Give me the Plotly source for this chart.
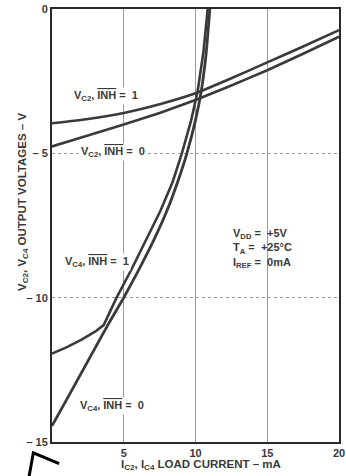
import plotly.graph_objects as go

# Load current (mA) and output voltages (V)
x_vc2 = [0, 2.5, 5, 7.5, 10, 12.5, 15, 17.5, 20]
vc2_inh1 = [-3.96, -3.81, -3.6, -3.3, -2.92, -2.4, -1.85, -1.3, -0.73]
vc2_inh0 = [-4.76, -4.38, -4.0, -3.6, -3.15, -2.65, -2.12, -1.55, -0.96]

x_vc4_inh1 = [0, 1, 2, 3, 3.6, 4.5, 5.5, 6.55, 7.55, 8.4, 9.05, 9.7, 10.15, 10.55, 10.85]
vc4_inh1 = [-11.94, -11.72, -11.47, -11.18, -10.95, -10.0, -9.06, -8.0, -7.0, -6.0, -5.0, -3.85, -2.85, -1.5, 0]

x_vc4_inh0 = [0, 1, 2, 3, 4, 5, 6, 7.1, 8.0, 8.75, 9.4, 10.0, 10.4, 10.75, 11.0]
vc4_inh0 = [-14.44, -13.55, -12.65, -11.75, -10.85, -10.0, -9.08, -8.0, -7.0, -6.0, -5.0, -3.85, -2.85, -1.5, 0]

x_ticks = [5, 10, 15, 20]
y_ticks = [0, -5, -10, -15]
y_tick_text = ["0", "\u2013 5", "\u2013 10", "\u2013 15"]

INK = "#3a3a3a"
FONT = "Liberation Sans"
NB = "\u00a0"
OV = '<span style="text-decoration:overline">INH</span>'
EQ = NB + "=" + NB + NB


def b(t):
    return "<b>" + t + "</b>"


fig = go.Figure()
for xs, ys, w, shp in [(x_vc2, vc2_inh1, 2.6, "spline"), (x_vc2, vc2_inh0, 2.6, "spline"),
                       (x_vc4_inh1, vc4_inh1, 2.6, "linear"), (x_vc4_inh0, vc4_inh0, 2.8, "spline")]:
    fig.add_trace(go.Scatter(x=xs, y=ys, mode="lines",
                             line=dict(color=INK, width=w, shape=shp,
                                       smoothing=0.4 if shp == "spline" else None),
                             showlegend=False, hoverinfo="skip"))

labels = [
    (3.75, -3.01, "V<sub>C2</sub>, " + OV + EQ + "1"),
    (4.25, -4.95, "V<sub>C2</sub>, " + OV + EQ + "0"),
    (3.15, -8.76, "V<sub>C4</sub>, " + OV + EQ + "1"),
    (4.15, -13.75, "V<sub>C4</sub>, " + OV + EQ + "0"),
]
ann = []
for lx, ly, t in labels:
    ann.append(dict(x=lx, y=ly, xref="x", yref="y", text=b(t), showarrow=False,
                    font=dict(family=FONT, size=11, color=INK),
                    bgcolor="white", borderpad=1))
ann.append(dict(x=12.45, y=-8.3, xref="x", yref="y", xanchor="left", align="left",
                text=b("V<sub>DD</sub>" + EQ + "+5V<br>T<sub>A</sub>" + EQ + "+25\u00b0C<br>I<sub>REF</sub>" + EQ + "0mA"),
                showarrow=False, font=dict(family=FONT, size=11, color=INK)))
ann.append(dict(x=0.52, y=-0.075, xref="paper", yref="paper",
                text=b("I<sub>C2</sub>, I<sub>C4</sub> LOAD CURRENT \u2013 mA"),
                showarrow=False, font=dict(family=FONT, size=11.5, color=INK)))
ann.append(dict(x=-0.135, y=0.555, xref="paper", yref="paper", textangle=-90,
                text=b("V<sub>C2</sub>, V<sub>C4</sub> OUTPUT VOLTAGES \u2013 V"),
                showarrow=False, font=dict(family=FONT, size=11.5, color=INK)))

fig.update_layout(
    width=346, height=476,
    margin=dict(l=52, r=1, t=9, b=34),
    paper_bgcolor="white", plot_bgcolor="white",
    annotations=ann,
    font=dict(family=FONT, size=10, color=INK),
    shapes=[dict(type="path", xref="paper", yref="paper",
                 path="M -0.08 -0.08 L -0.065 -0.025 L 0.025 -0.05",
                 line=dict(color="black", width=3))],
)
fig.update_xaxes(range=[0, 20], tickvals=x_ticks, ticktext=[b(str(v)) for v in x_ticks],
                 showgrid=True, gridcolor="#9a9a9a", gridwidth=1,
                 showline=True, linecolor="#2a2a2a", linewidth=2, mirror=True,
                 zeroline=False, ticks="", ticklen=0, ticklabeloverflow="allow",
                 tickfont=dict(family=FONT, size=11, color=INK))
fig.update_yaxes(range=[-15, 0], tickvals=y_ticks, ticktext=[b(t) for t in y_tick_text],
                 showgrid=True, gridcolor="#9a9a9a", gridwidth=1, griddash="dot",
                 showline=True, linecolor="#2a2a2a", linewidth=2, mirror=True,
                 zeroline=False, ticks="", ticklen=0, ticklabeloverflow="allow",
                 tickfont=dict(family=FONT, size=11, color=INK))

fig.write_html("out.html", config={"displayModeBar": False},
               post_script="document.body.style.margin='0';")
